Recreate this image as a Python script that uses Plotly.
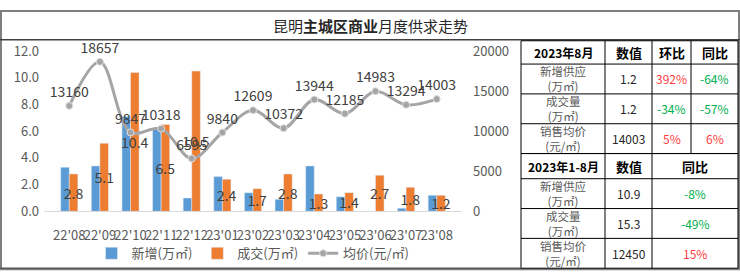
import plotly.graph_objects as go

W, H = 740, 280
FONT = "Noto Sans CJK SC"

# ---------------- data ----------------
months = ["22'08", "22'09", "22'10", "22'11", "22'12", "23'01", "23'02",
          "23'03", "23'04", "23'05", "23'06", "23'07", "23'08"]
supply = [3.3, 3.4, 7.1, 6.2, 1.0, 2.6, 1.4, 0.9, 3.4, 1.1, 0.0, 0.24, 1.2]
deal = [2.8, 5.1, 10.4, 6.5, 10.5, 2.4, 1.7, 2.8, 1.3, 1.4, 2.7, 1.8, 1.2]
price = [13160, 18657, 9847, 10318, 6595, 9840, 12609, 10372, 13944,
         12185, 14983, 13294, 14003]

left_ticks = [0, 2, 4, 6, 8, 10, 12]
right_ticks = [0, 5000, 10000, 15000, 20000]

t1_header = ["2023年8月", "数值", "环比", "同比"]
t1_labels = [["新增供应", "(万㎡)"], ["成交量", "(万㎡)"], ["销售均价", "(元/㎡)"]]
t1_values = ["1.2", "1.2", "14003"]
t1_mom = ["392%", "-34%", "5%"]
t1_yoy = ["-64%", "-57%", "6%"]

t2_header = ["2023年1-8月", "数值", "同比"]
t2_labels = [["新增供应", "(万㎡)"], ["成交量", "(万㎡)"], ["销售均价", "(元/㎡)"]]
t2_values = ["10.9", "15.3", "12450"]
t2_yoy = ["-8%", "-49%", "15%"]

title_html = "昆明<b>主城区商业</b>月度供求走势"

# ---------------- helpers ----------------
def px(x):
    return x / W


def py(y):
    return 1 - y / H


def pct_color(s):
    return "#00B050" if s.strip().startswith("-") else "#FF3B3B"


fig = go.Figure()

fig.add_trace(go.Bar(
    x=months, y=supply, name="新增(万㎡)", marker_color="#5B9BD5",
    yaxis="y",
))
fig.add_trace(go.Bar(
    x=months, y=deal, name="成交(万㎡)", marker_color="#ED7D31",
    text=[f"{v:.1f}" for v in deal], textposition="inside", textangle=0,
    insidetextanchor="middle", constraintext="none",
    textfont=dict(size=14, color="#404040", family=FONT),
    yaxis="y",
))
fig.add_trace(go.Scatter(
    x=months, y=price, name="均价(元/㎡)", yaxis="y2",
    mode="lines+markers+text", line=dict(color="#A5A5A5", width=3, shape="spline", smoothing=1.0),
    marker=dict(size=7, color="#A5A5A5", line=dict(color="#E0E0E0", width=1)),
    text=[str(v) for v in price], textposition="top center",
    textfont=dict(size=14, color="#404040", family=FONT),
    cliponaxis=False,
))

x0, x1 = 44, 462
y_top, y_bot = 44, 216

fig.update_layout(
    width=W, height=H,
    margin=dict(l=0, r=0, t=0, b=0),
    paper_bgcolor="white", plot_bgcolor="white",
    font=dict(family=FONT, color="#595959", size=13),
    barmode="group", bargap=0.44, bargroupgap=0,
    uniformtext=dict(minsize=14, mode="show"),
    showlegend=True,
    legend=dict(orientation="h", x=px(253), xanchor="center", y=py(261), yanchor="middle",
                font=dict(size=13, color="#595959", family=FONT),
                traceorder="normal", itemwidth=30, bgcolor="rgba(0,0,0,0)"),
    xaxis=dict(domain=[px(x0), px(x1)], type="category", showgrid=False,
               showline=True, linecolor="#D9D9D9", linewidth=1, ticks="",
               tickangle=0, tickfont=dict(size=13, color="#595959"), ticklabelstandoff=12,
               fixedrange=True),
    yaxis=dict(domain=[py(y_bot), py(y_top)], range=[0, 12], tickvals=left_ticks,
               ticktext=[f"{v:.1f}" for v in left_ticks], showgrid=False,
               zeroline=False, showline=False, tickfont=dict(size=13, color="#595959"),
               ticklabelstandoff=4),
    yaxis2=dict(domain=[py(y_bot), py(y_top)], range=[0, 20000], tickvals=right_ticks,
                ticktext=[str(v) for v in right_ticks], overlaying="y", side="right",
                showgrid=False, zeroline=False, showline=False,
                tickfont=dict(size=13, color="#595959"), ticklabelstandoff=10),
)

shapes = []
ann = []


def hline(xa, xb, y, color="#000000", width=1):
    shapes.append(dict(type="line", xref="paper", yref="paper", x0=px(xa), x1=px(xb),
                       y0=py(y), y1=py(y), line=dict(color=color, width=width)))


def vline(x, ya, yb, color="#000000", width=1):
    shapes.append(dict(type="line", xref="paper", yref="paper", x0=px(x), x1=px(x),
                       y0=py(ya), y1=py(yb), line=dict(color=color, width=width)))


def text(x, y, s, size=12, color="#262626", bold=False):
    if bold:
        s = f"<b>{s}</b>"
    ann.append(dict(x=px(x), y=py(y), xref="paper", yref="paper", text=s, showarrow=False,
                    xanchor="center", yanchor="middle", align="center",
                    font=dict(size=size, color=color, family=FONT)))


# outer frame and title separator
shapes.append(dict(type="rect", xref="paper", yref="paper", x0=px(1), x1=px(739),
                   y0=py(278), y1=py(1), line=dict(color="#7F7F7F", width=2)))
hline(0, 740, 32, "#404040", 1.5)
text(370, 17, title_html, size=15, color="#262626")

# table geometry
cx = [521, 605, 652, 691, 738]
r1 = [33, 58, 90, 122, 154]
r2 = [154, 181, 213, 245, 277]

for y in r1:
    hline(cx[0], cx[-1], y)
for y in r2:
    hline(cx[0], cx[-1], y)
for x in cx:
    vline(x, r1[0], r1[-1])
for x in [cx[0], cx[1], cx[2], cx[4]]:
    vline(x, r2[0], r2[-1])
hline(0, cx[0], 277, "#595959", 1.5)

c1 = [(cx[i] + cx[i + 1]) / 2 for i in range(4)]
for i, h in enumerate(t1_header):
    text(c1[i], (r1[0] + r1[1]) / 2, h, size=12 if i == 0 else 13, color="#000000", bold=True)
for j in range(3):
    yc = (r1[j + 1] + r1[j + 2]) / 2
    text(c1[0], yc, "<br>".join(t1_labels[j]), size=11.5, color="#595959")
    text(c1[1], yc, t1_values[j], size=12, color="#262626")
    text(c1[2], yc, t1_mom[j], size=12, color=pct_color(t1_mom[j]))
    text(c1[3], yc, t1_yoy[j], size=12, color=pct_color(t1_yoy[j]))

c2 = [c1[0], c1[1], (cx[2] + cx[4]) / 2]
for i, h in enumerate(t2_header):
    text(c2[i], (r2[0] + r2[1]) / 2, h, size=12 if i == 0 else 13, color="#000000", bold=True)
for j in range(3):
    yc = (r2[j + 1] + r2[j + 2]) / 2
    text(c2[0], yc, "<br>".join(t2_labels[j]), size=11.5, color="#595959")
    text(c2[1], yc, t2_values[j], size=12, color="#262626")
    text(c2[2], yc, t2_yoy[j], size=12, color=pct_color(t2_yoy[j]))

fig.update_layout(shapes=shapes, annotations=ann)

fig.write_html("out.html")
